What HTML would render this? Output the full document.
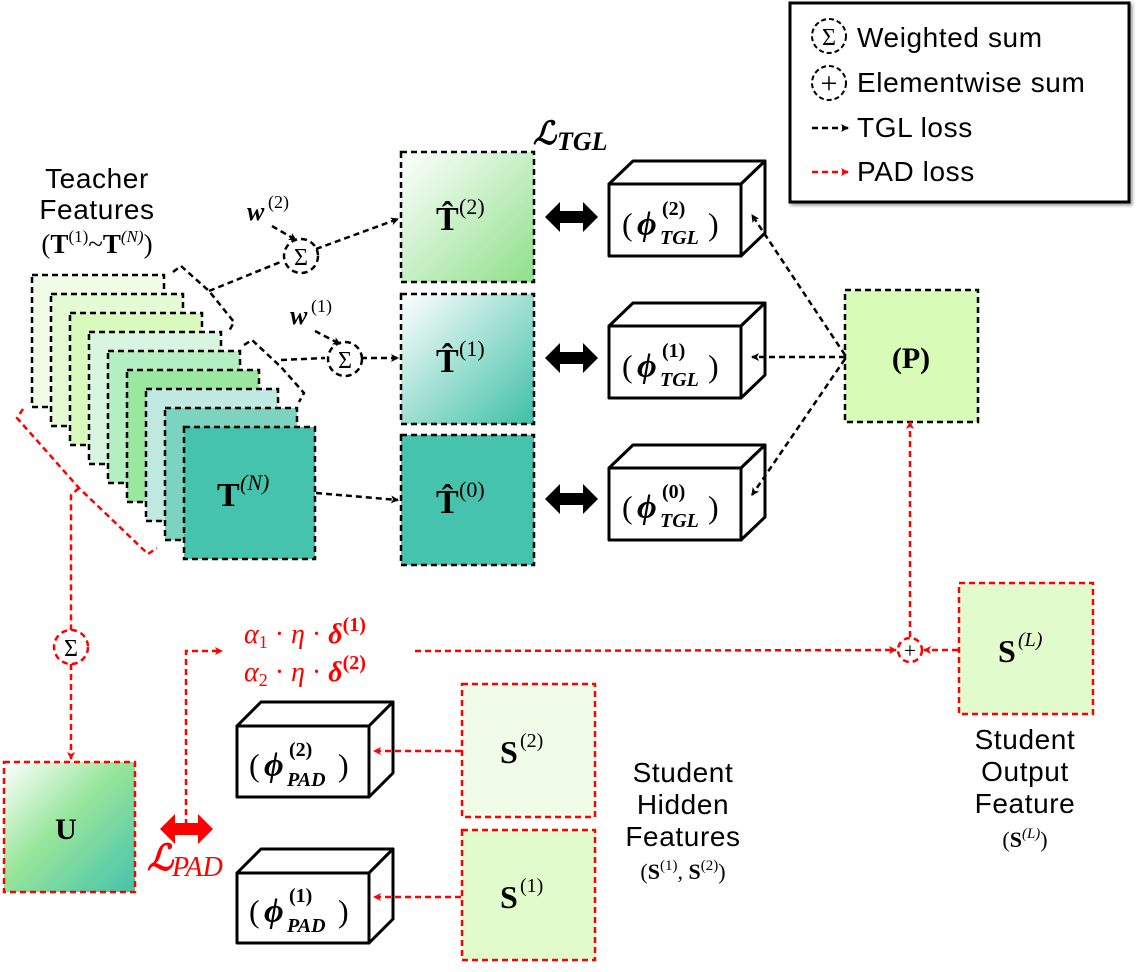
<!DOCTYPE html>
<html><head><meta charset="utf-8"><style>
body{margin:0;background:#fff}
svg text{font-family:"Liberation Serif",serif}
.s{font-family:"Liberation Sans",sans-serif}
</style></head><body>
<svg width="1137" height="967" viewBox="0 0 1137 967" xmlns="http://www.w3.org/2000/svg">
<defs>
<marker id="ab" markerWidth="8" markerHeight="8" refX="7" refY="4" orient="auto" markerUnits="userSpaceOnUse"><path d="M0,0 L8,4 L0,8 L2,4 z" fill="#000"/></marker>
<marker id="ar" markerWidth="8" markerHeight="8" refX="7" refY="4" orient="auto" markerUnits="userSpaceOnUse"><path d="M0,0 L8,4 L0,8 L2,4 z" fill="#f00"/></marker>
<linearGradient id="g2" x1="0" y1="0" x2="1" y2="1"><stop offset="0" stop-color="#fff"/><stop offset="1" stop-color="#8ee08a"/></linearGradient>
<linearGradient id="g1" x1="0" y1="0" x2="1" y2="1"><stop offset="0" stop-color="#fff"/><stop offset="1" stop-color="#3ec0a6"/></linearGradient>
<linearGradient id="gu" x1="0" y1="0" x2="1" y2="1"><stop offset="0" stop-color="#fff"/><stop offset="0.45" stop-color="#98e69a"/><stop offset="1" stop-color="#45c3ad"/></linearGradient>
<filter id="sh"><feDropShadow dx="2" dy="2" stdDeviation="1.5" flood-opacity="0.4"/></filter>
</defs>

<!-- legend -->
<rect x="790" y="3" width="339" height="199" fill="#fff" stroke="#000" stroke-width="3" filter="url(#sh)"/>
<circle cx="829" cy="36" r="17" fill="none" stroke="#000" stroke-width="2" stroke-dasharray="5,3"/>
<text x="829" y="45" font-size="24" text-anchor="middle">Σ</text>
<text class="s" x="857" y="47" font-size="28" letter-spacing="0.6">Weighted sum</text>
<circle cx="829" cy="83" r="17" fill="none" stroke="#000" stroke-width="2" stroke-dasharray="5,3"/>
<text x="829" y="93" font-size="30" text-anchor="middle">+</text>
<text class="s" x="857" y="92" font-size="28" letter-spacing="0.6">Elementwise sum</text>
<line x1="812" y1="128" x2="848" y2="128" stroke="#000" stroke-width="2.5" stroke-dasharray="6,4" marker-end="url(#ab)"/>
<text class="s" x="857" y="137" font-size="28" letter-spacing="0.6">TGL loss</text>
<line x1="812" y1="172" x2="848" y2="172" stroke="#f00" stroke-width="2.5" stroke-dasharray="6,4" marker-end="url(#ar)"/>
<text class="s" x="857" y="181" font-size="28" letter-spacing="0.6">PAD loss</text>

<!-- teacher title -->
<text class="s" x="97" y="188" font-size="28" letter-spacing="0.6" text-anchor="middle">Teacher</text>
<text class="s" x="97" y="219" font-size="28" letter-spacing="0.6" text-anchor="middle">Features</text>
<text x="97" y="253" font-size="27" text-anchor="middle">(<tspan font-weight="bold">T</tspan><tspan font-size="17" dy="-11">(1)</tspan><tspan dy="11">~</tspan><tspan font-weight="bold">T</tspan><tspan font-size="17" dy="-11" font-style="italic">(N)</tspan><tspan dy="11">)</tspan></text>

<!-- teacher stack -->
<g stroke="#000" stroke-width="2.5" stroke-dasharray="6,4">
<rect x="32" y="275" width="132" height="132" fill="#f0fce8"/>
<rect x="51" y="294" width="132" height="132" fill="#e4fad3"/>
<rect x="70" y="313" width="132" height="132" fill="#daf9bc"/>
<rect x="89" y="332" width="132" height="132" fill="#d8f5e0"/>
<rect x="108" y="351" width="132" height="132" fill="#b4efc2"/>
<rect x="127" y="370" width="132" height="132" fill="#9ae7a0"/>
<rect x="146" y="389" width="132" height="132" fill="#c0e9e2"/>
<rect x="165" y="408" width="132" height="132" fill="#7bd3c0"/>
<rect x="184" y="427" width="131" height="132" fill="#45c3ad"/>
</g>
<text x="217" y="506" font-size="34" font-weight="bold">T</text>
<text x="240" y="490" font-size="22" font-style="italic">(N)</text>

<!-- black braces -->
<g fill="none" stroke="#000" stroke-width="2.5" stroke-dasharray="6,4">
<polyline points="173,272 181,266 209,291 234,322 228,333"/>
<polyline points="244,345 252,340 281,367 304,393 299,402"/>
<polyline points="209,291 283,261"/>
<polyline points="281,360 325,358"/>
<polyline points="316,249 398,219" marker-end="url(#ab)"/>
<polyline points="361,358 398,358" marker-end="url(#ab)"/>
<polyline points="316,493 398,500" marker-end="url(#ab)"/>
<polyline points="272,226 296,240" marker-end="url(#ab)"/>
<polyline points="315,331 340,344" marker-end="url(#ab)"/>
<circle cx="301" cy="256" r="17"/>
<circle cx="345" cy="359" r="17"/>
</g>
<text x="301" y="265" font-size="24" text-anchor="middle">Σ</text>
<text x="345" y="368" font-size="24" text-anchor="middle">Σ</text>
<text x="247" y="220" font-size="26" font-weight="bold" font-style="italic">w</text>
<text x="268" y="208" font-size="18">(2)</text>
<text x="290" y="324" font-size="26" font-weight="bold" font-style="italic">w</text>
<text x="311" y="312" font-size="18">(1)</text>

<!-- red brace -->
<g fill="none" stroke="#f00" stroke-width="2.5" stroke-dasharray="6,4">
<polyline points="23,409 17,418 79,488 148,554 157,548"/>
<polyline points="79,488 71,495 71,630"/>
<circle cx="71" cy="647" r="17"/>
<polyline points="71,664 71,759" marker-end="url(#ar)"/>
</g>
<text x="71" y="656" font-size="24" text-anchor="middle" fill="#000">Σ</text>

<!-- T hat boxes -->
<g stroke="#000" stroke-width="2.5" stroke-dasharray="6,4">
<rect x="401" y="152" width="133" height="130" fill="url(#g2)"/>
<rect x="401" y="294" width="133" height="130" fill="url(#g1)"/>
<rect x="401" y="435" width="133" height="130" fill="#45c3ad"/>
</g>
<g font-size="34" font-weight="bold">
<text x="436" y="230">T̂</text><text x="459" y="214" font-size="22" font-weight="normal">(2)</text>
<text x="436" y="372">T̂</text><text x="459" y="356" font-size="22" font-weight="normal">(1)</text>
<text x="436" y="513">T̂</text><text x="459" y="497" font-size="22" font-weight="normal">(0)</text>
</g>
<text x="533" y="144" font-size="32" font-weight="bold" font-style="italic">ℒ</text>
<text x="557" y="150" font-size="26" font-weight="bold" font-style="italic">TGL</text>

<!-- double arrows black -->
<g fill="#000">
<path d="M545,217 L560,202 L560,211 L583,211 L583,202 L598,217 L583,232 L583,223 L560,223 L560,232 z"/>
<path d="M545,358 L560,343 L560,352 L583,352 L583,343 L598,358 L583,373 L583,364 L560,364 L560,373 z"/>
<path d="M545,499 L560,484 L560,493 L583,493 L583,484 L598,499 L583,514 L583,505 L560,505 L560,514 z"/>
</g>

<!-- 3D boxes TGL -->
<g fill="#fff" stroke="#000" stroke-width="3" stroke-linejoin="round">
<path d="M609,184 L633,161 L765,161 L741,184 z"/><path d="M741,184 L765,161 L765,233 L741,256 z"/><rect x="609" y="184" width="132" height="72"/>
<path d="M609,326 L633,303 L765,303 L741,326 z"/><path d="M741,326 L765,303 L765,375 L741,398 z"/><rect x="609" y="326" width="132" height="72"/>
<path d="M609,468 L633,445 L765,445 L741,468 z"/><path d="M741,468 L765,445 L765,517 L741,540 z"/><rect x="609" y="468" width="132" height="72"/>
</g>
<g>
<text x="622" y="235" font-size="32">(</text><text x="637" y="235" font-size="34" font-weight="bold" font-style="italic">ϕ</text><text x="662" y="215" font-size="20" font-weight="bold">(2)</text><text x="660" y="244" font-size="20" font-weight="bold" font-style="italic">TGL</text><text x="708" y="235" font-size="32">)</text>
<text x="622" y="377" font-size="32">(</text><text x="637" y="377" font-size="34" font-weight="bold" font-style="italic">ϕ</text><text x="662" y="357" font-size="20" font-weight="bold">(1)</text><text x="660" y="386" font-size="20" font-weight="bold" font-style="italic">TGL</text><text x="708" y="377" font-size="32">)</text>
<text x="622" y="518" font-size="32">(</text><text x="637" y="518" font-size="34" font-weight="bold" font-style="italic">ϕ</text><text x="662" y="498" font-size="20" font-weight="bold">(0)</text><text x="660" y="527" font-size="20" font-weight="bold" font-style="italic">TGL</text><text x="708" y="518" font-size="32">)</text>
</g>

<!-- P box -->
<rect x="845" y="290" width="133" height="132" fill="#d8fbb8" stroke="#000" stroke-width="2.5" stroke-dasharray="6,4"/>
<text x="911" y="368" font-size="30" font-weight="bold" text-anchor="middle">(P)</text>
<g fill="none" stroke="#000" stroke-width="2.5" stroke-dasharray="6,4">
<polyline points="845,355 752,215" marker-end="url(#ab)"/>
<polyline points="845,357 752,357" marker-end="url(#ab)"/>
<polyline points="845,359 752,495" marker-end="url(#ab)"/>
</g>

<!-- red lower -->
<rect x="4" y="762" width="131" height="130" fill="url(#gu)" stroke="#f00" stroke-width="2.5" stroke-dasharray="6,4"/>
<text x="66" y="839" font-size="30" font-weight="bold" text-anchor="middle">U</text>
<path d="M160,829 L175,814 L175,823 L198,823 L198,814 L213,829 L198,844 L198,835 L175,835 L175,844 z" fill="#f00"/>
<text x="147" y="870" font-size="36" font-style="italic" font-weight="bold" fill="#f00">ℒ</text>
<text x="172" y="876" font-size="28" font-style="italic" fill="#f00">PAD</text>

<!-- S boxes -->
<g stroke="#f00" stroke-width="2.5" stroke-dasharray="6,4">
<rect x="959" y="583" width="134" height="131" fill="#e2fbcc"/>
<rect x="462" y="684" width="133" height="133" fill="#f1fce8"/>
<rect x="462" y="830" width="133" height="130" fill="#e2fbcc"/>
</g>
<g font-size="32" font-weight="bold">
<text x="998" y="662">S</text><text x="1018" y="646" font-size="20" font-weight="normal" font-style="italic">(L)</text>
<text x="500" y="763">S</text><text x="520" y="747" font-size="20" font-weight="normal">(2)</text>
<text x="500" y="908">S</text><text x="520" y="892" font-size="20" font-weight="normal">(1)</text>
</g>

<!-- PAD 3D boxes -->
<g fill="#fff" stroke="#000" stroke-width="3" stroke-linejoin="round">
<path d="M237,726 L261,702 L393,702 L369,726 z"/><path d="M369,726 L393,702 L393,773 L369,797 z"/><rect x="237" y="726" width="132" height="71"/>
<path d="M237,873 L261,849 L393,849 L369,873 z"/><path d="M369,873 L393,849 L393,919 L369,943 z"/><rect x="237" y="873" width="132" height="70"/>
</g>
<g>
<text x="249" y="776" font-size="32">(</text><text x="264" y="776" font-size="34" font-weight="bold" font-style="italic">ϕ</text><text x="289" y="756" font-size="20" font-weight="bold">(2)</text><text x="287" y="786" font-size="20" font-weight="bold" font-style="italic">PAD</text><text x="338" y="776" font-size="32">)</text>
<text x="249" y="922" font-size="32">(</text><text x="264" y="922" font-size="34" font-weight="bold" font-style="italic">ϕ</text><text x="289" y="902" font-size="20" font-weight="bold">(1)</text><text x="287" y="932" font-size="20" font-weight="bold" font-style="italic">PAD</text><text x="338" y="922" font-size="32">)</text>
</g>

<g fill="none" stroke="#f00" stroke-width="2.5" stroke-dasharray="6,4">
<polyline points="186,825 186,651 222,651" marker-end="url(#ar)"/>
<polyline points="415,651 896,650" marker-end="url(#ar)"/>
<circle cx="910" cy="650" r="12"/>
<polyline points="958,650 924,650" marker-end="url(#ar)"/>
<polyline points="910,637 910,422" marker-end="url(#ar)"/>
<polyline points="461,751 374,751" marker-end="url(#ar)"/>
<polyline points="461,897 374,897" marker-end="url(#ar)"/>
</g>
<text x="910" y="658" font-size="22" text-anchor="middle">+</text>
<g fill="#f00" font-size="28" font-style="italic">
<text x="244" y="643">α<tspan font-size="18" font-style="normal" dy="5">1</tspan><tspan dy="-5" font-style="normal"> · </tspan>η<tspan font-style="normal"> · </tspan><tspan font-weight="bold">δ</tspan><tspan font-size="20" font-weight="bold" font-style="normal" dy="-12">(1)</tspan></text>
<text x="244" y="681">α<tspan font-size="18" font-style="normal" dy="5">2</tspan><tspan dy="-5" font-style="normal"> · </tspan>η<tspan font-style="normal"> · </tspan><tspan font-weight="bold">δ</tspan><tspan font-size="20" font-weight="bold" font-style="normal" dy="-12">(2)</tspan></text>
</g>

<!-- labels -->
<g font-size="28" letter-spacing="0.6" text-anchor="middle">
<text class="s" x="683" y="782">Student</text>
<text class="s" x="683" y="814">Hidden</text>
<text class="s" x="683" y="846">Features</text>
<text class="s" x="1025" y="749">Student</text>
<text class="s" x="1025" y="781">Output</text>
<text class="s" x="1025" y="813">Feature</text>
</g>
<text x="683" y="879" font-size="22" text-anchor="middle">(<tspan font-weight="bold">S</tspan><tspan font-size="15" dy="-9">(1)</tspan><tspan dy="9">, </tspan><tspan font-weight="bold">S</tspan><tspan font-size="15" dy="-9">(2)</tspan><tspan dy="9">)</tspan></text>
<text x="1025" y="847" font-size="22" text-anchor="middle">(<tspan font-weight="bold">S</tspan><tspan font-size="15" font-style="italic" dy="-9">(L)</tspan><tspan dy="9">)</tspan></text>
</svg>
</body></html>
